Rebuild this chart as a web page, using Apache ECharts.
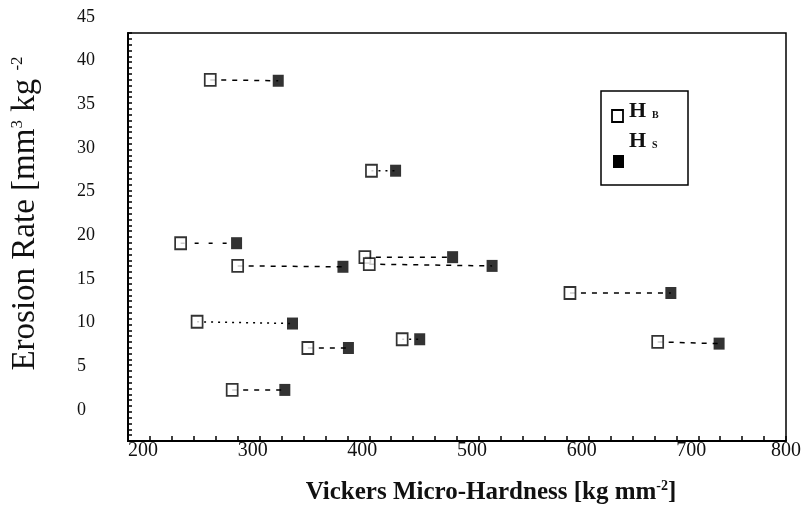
<!DOCTYPE html>
<html><head><meta charset="utf-8">
<script src="https://cdn.jsdelivr.net/npm/echarts@6/dist/echarts.min.js"></script>
<style>html,body{margin:0;padding:0;background:#fff}#c{width:801px;height:508px}</style>
</head><body><div id="c"></div>
<script>
// ---- data ----
const xTickLabels = [200, 300, 400, 500, 600, 700, 800];
const yTickLabels = [0, 5, 10, 15, 20, 25, 30, 35, 40, 45];
const hbHardness = [275, 422, 248, 300, 416, 420, 603, 263, 364, 450, 683, 295];
const hbErosion  = [37.8, 27.4, 19.1, 16.5, 17.5, 16.7, 13.4, 10.1, 7.1, 8.1, 7.8, 2.3];
const hsHardness = [337, 444, 299, 396, 496, 532, 695, 350, 401, 466, 739, 343];
const hsErosion  = [37.7, 27.4, 19.1, 16.4, 17.5, 16.5, 13.4, 9.9, 7.1, 8.1, 7.6, 2.3];
// connector style per pair
const pairLineKind = ['dash', 'dot', 'sparse', 'dash', 'dash', 'dash', 'dash', 'dot', 'dash', 'dot', 'dash', 'dash'];

const SERIF = "'Liberation Serif', 'DejaVu Serif', serif";
const dashMap = { dash: [5, 6], dot: [2, 5], sparse: [4, 10] };

const chart = echarts.init(document.getElementById('c'), null, { renderer: 'canvas' });

const series = [];
hbHardness.forEach((_, i) => {
  series.push({
    type: 'line', xAxisIndex: 1, yAxisIndex: 1, silent: true, z: 2,
    symbol: 'none', animation: false,
    data: [[hbHardness[i], hbErosion[i]], [hsHardness[i], hsErosion[i]]],
    lineStyle: { color: '#000', width: 1.5, type: dashMap[pairLineKind[i]] }
  });
});
series.push({
  type: 'scatter', name: 'HB', xAxisIndex: 1, yAxisIndex: 1, z: 3,
  symbol: 'rect', symbolSize: [11, 12],
  itemStyle: { color: '#fff', borderColor: '#000', borderWidth: 1.8 },
  data: hbHardness.map((v, i) => [v, hbErosion[i]])
});
series.push({
  type: 'scatter', name: 'HS', xAxisIndex: 1, yAxisIndex: 1, z: 3,
  symbol: 'rect', symbolSize: [11, 12],
  itemStyle: { color: '#000' },
  data: hsHardness.map((v, i) => [v, hsErosion[i]])
});

const option = {
  animation: false,
  backgroundColor: '#fff',
  grid: [
    { left: 128, right: 15, top: 33, bottom: 67, outerBoundsMode: 'none', containLabel: false,
      show: true, borderColor: '#000', borderWidth: 1.5, backgroundColor: 'transparent' },
    { left: 128, right: 15, top: 17, bottom: 98, outerBoundsMode: 'none', containLabel: false }
  ],
  xAxis: [
    {
      gridIndex: 0, type: 'value',
      min: xTickLabels[0], max: xTickLabels[xTickLabels.length - 1], interval: 100,
      axisLine: { show: true, lineStyle: { color: '#000', width: 2 } },
      axisTick: { show: true, inside: true, length: 5, lineStyle: { color: '#000', width: 1.5 } },
      minorTick: { show: true, splitNumber: 5, length: 5, lineStyle: { color: '#000', width: 1.5 } },
      splitLine: { show: false },
      axisLabel: {
        show: true, align: 'left', alignMaxLabel: 'center', margin: 0,
        fontFamily: SERIF, fontSize: 20, color: '#111',
        formatter: v => xTickLabels.includes(v) ? String(v) : ''
      }
    },
    { gridIndex: 1, type: 'value', min: 200, max: 800, show: false }
  ],
  yAxis: [
    {
      gridIndex: 0, type: 'value', min: 0, max: 70, interval: 10,
      axisLine: { show: true, lineStyle: { color: '#000', width: 2 } },
      axisTick: { show: true, inside: true, length: 4, lineStyle: { color: '#000', width: 1.5 } },
      minorTick: { show: true, splitNumber: 10, length: 4, lineStyle: { color: '#000', width: 1.5 } },
      splitLine: { show: false },
      axisLabel: { show: false }
    },
    {
      gridIndex: 1, type: 'value',
      min: yTickLabels[0], max: yTickLabels[yTickLabels.length - 1], interval: 5,
      axisLine: { show: false }, axisTick: { show: false }, splitLine: { show: false },
      axisLabel: { align: 'left', margin: 51, fontFamily: SERIF, fontSize: 18, color: '#111' },
      name: 'Erosion Rate [mm{sup|3} kg {sup|-2}',
      nameLocation: 'middle', nameGap: 86, nameRotate: 90,
      nameTextStyle: {
        fontFamily: SERIF, fontSize: 33, color: '#111',
        rich: { sup: { fontFamily: SERIF, fontSize: 17, color: '#111', verticalAlign: 'top', padding: [0, 0, 14, 0] } }
      }
    }
  ],
  graphic: [
    {
      type: 'text', x: 491, y: 493, z: 10,
      style: {
        text: 'Vickers Micro-Hardness [kg mm{sup|-2}]',
        font: "bold 25px " + SERIF, fill: '#111', align: 'center', verticalAlign: 'middle',
        rich: { sup: { font: "bold 14px " + SERIF, fill: '#111', padding: [0, 0, 13, 0] } }
      }
    },
    // legend box
    { type: 'rect', shape: { x: 601, y: 91, width: 87, height: 94 }, style: { fill: 'none', stroke: '#000', lineWidth: 1.5 }, z: 10 },
    { type: 'rect', shape: { x: 612, y: 110, width: 11, height: 12 }, style: { fill: '#fff', stroke: '#000', lineWidth: 1.8 }, z: 10 },
    { type: 'text', x: 629, y: 111, z: 10, style: { text: 'H', font: "bold 22px " + SERIF, fill: '#111', verticalAlign: 'middle' } },
    { type: 'text', x: 652, y: 115, z: 10, style: { text: 'B', font: "bold 10px " + SERIF, fill: '#111', verticalAlign: 'middle' } },
    { type: 'text', x: 629, y: 141, z: 10, style: { text: 'H', font: "bold 22px " + SERIF, fill: '#111', verticalAlign: 'middle' } },
    { type: 'text', x: 652, y: 145, z: 10, style: { text: 'S', font: "bold 10px " + SERIF, fill: '#111', verticalAlign: 'middle' } },
    { type: 'rect', shape: { x: 613, y: 155, width: 11, height: 13 }, style: { fill: '#000' }, z: 10 }
  ],
  series
};
chart.setOption(option);
</script>
</body></html>
